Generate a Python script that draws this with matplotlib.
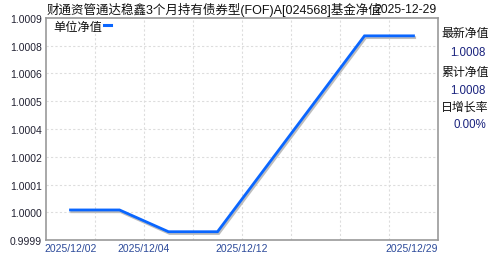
import matplotlib
matplotlib.use("Agg")
import matplotlib.pyplot as plt
import matplotlib.transforms as mtransforms
import numpy as np

# ---- data ----
title_text = "财通资管通达稳鑫3个月持有债券型(FOF)A[024568]基金净值"
date_text = "2025-12-29"
nav_values = [1.0000, 1.0000, 0.9999, 0.9999, 1.0002, 1.0005, 1.0008, 1.0008]
xtick_labels = ["2025/12/02", "2025/12/04", "2025/12/12", "2025/12/29"]
ytick_labels = ["0.9999", "1.0000", "1.0001", "1.0002", "1.0004",
                "1.0005", "1.0006", "1.0008", "1.0009"]
legend_label = "单位净值"
side_labels = ["最新净值", "累计净值", "日增长率"]
side_values = ["1.0008", "1.0008", "0.00%"]

FAM = ["Liberation Sans", "Noto Sans CJK SC", "DejaVu Sans"]
plt.rcParams["font.family"] = FAM

W, H = 488, 255
fig = plt.figure(figsize=(W / 100, H / 100), dpi=100)
fig.patch.set_facecolor("white")

L, R, T, B = 46, 438, 19, 241
ax = fig.add_axes([L / W, 1 - B / H, (R - L) / W, (B - T) / H])

n = len(nav_values)
x = np.arange(n) + 0.5
ymin, ymax = 0.999862, 1.000882
ax.set_xlim(0, n)
ax.set_ylim(ymin, ymax)

# grid
yt = np.linspace(ymin, ymax, len(ytick_labels))
for v in yt[1:-1]:
    ax.axhline(v, color="#dddddd", lw=0.8, ls=(0, (2, 2)), zorder=1)
for v in range(1, n):
    ax.axvline(v, color="#dddddd", lw=0.8, ls=(0, (2, 2)), zorder=1)

# shadow + line
shadow_tr = mtransforms.offset_copy(ax.transData, fig=fig, x=1.2, y=-1.8, units="dots")
ax.plot(x, nav_values, color="#bdbdbd", lw=2.0, transform=shadow_tr, zorder=2,
        solid_joinstyle="miter")
ax.plot(x, nav_values, color="#0a66ff", lw=2.0, zorder=3, solid_joinstyle="miter")

for s in ax.spines.values():
    s.set_color("#999999")
    s.set_linewidth(1.2)

ax.set_yticks(yt)
ax.set_yticklabels(ytick_labels)
ax.tick_params(axis="y", length=0, pad=3, labelsize=7.5, labelcolor="#222233")

xt_pos = [0.5, 2, 4, n]
ax.set_xticks(xt_pos)
ax.set_xticklabels(xtick_labels)
ax.tick_params(axis="x", length=0, pad=2, labelsize=7.5, labelcolor="#2c4a9a")
ax.get_xticklabels()[-1].set_horizontalalignment("right")

# legend
fig.text(53 / W, 1 - 28 / H, legend_label, fontsize=8.8, va="center", ha="left",
         color="#111111")
fig.add_artist(plt.Line2D([104 / W, 111 / W], [1 - 26 / H, 1 - 26 / H],
                          color="#0a66ff", lw=2.2))

# title
fig.text(47 / W, 1 - 10 / H, title_text, fontsize=9.0, va="center", ha="left",
         color="#111111")
fig.text(437 / W, 1 - 10 / H, date_text, fontsize=8.8, va="center", ha="right",
         color="#111111")

# side panel
ys_lab = [34, 73, 108]
ys_val = [53, 91, 125]
for lab, val, yl, yv in zip(side_labels, side_values, ys_lab, ys_val):
    fig.text(441 / W, 1 - yl / H, lab, fontsize=8.6, va="center", ha="left",
             color="#111111")
    fig.text(486 / W, 1 - yv / H, val, fontsize=8.3, va="center", ha="right",
             color="#1a237e")

fig.savefig("out.png", dpi=100, facecolor="white")
